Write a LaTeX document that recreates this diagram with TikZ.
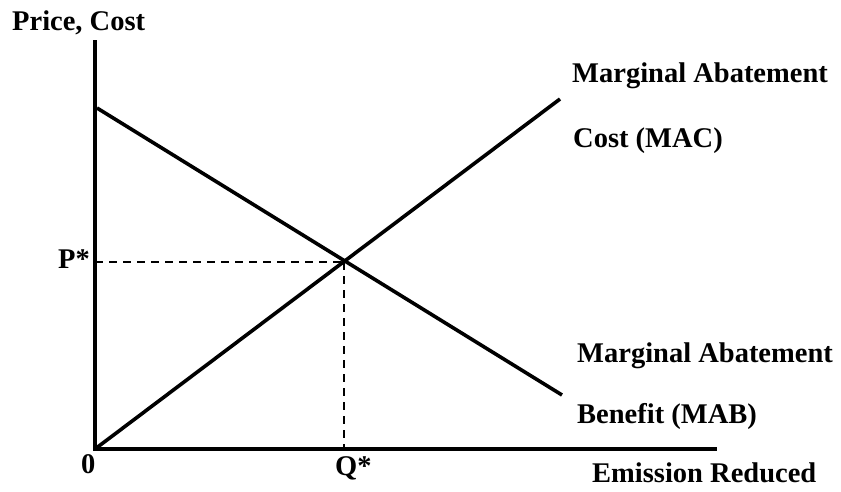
\documentclass[tikz,border=0pt]{standalone}
\usepackage{fontspec}
\setmainfont{Liberation Serif}
\begin{document}
\begin{tikzpicture}[x=1pt,y=-1pt,
  axis/.style={line width=4pt},
  curve/.style={line width=3.6pt},
  guide/.style={line width=1.5pt, dash pattern=on 8pt off 6pt},
  lbl/.style={font=\fontsize{28.5}{32}\selectfont\bfseries, inner sep=0pt, anchor=base west}]
\useasboundingbox (0,0) rectangle (841,491);
\coordinate (O) at (95,449);
\coordinate (Ytop) at (95,40);
\coordinate (Xend) at (717,449);
\coordinate (MACa) at (95,449);
\coordinate (MACb) at (560,99);
\coordinate (MABa) at (97,108);
\coordinate (MABb) at (562,395);
\coordinate (E) at (344,262);
\coordinate (Py) at (95,262);
\coordinate (Qx) at (344,449);
\draw[axis] (Ytop) -- (O) -- (Xend);
\draw[curve] (MACa) -- (MACb);
\draw[curve] (MABa) -- (MABb);
\draw[guide] (Py) -- (E);
\draw[guide] (E) -- (Qx);
\node[lbl] (tpc) at (12,30) {Price, Cost};
\node[lbl] (tmac1) at (572,82) {Marginal Abatement};
\node[lbl] (tmac2) at (573,147) {Cost (MAC)};
\node[lbl] (tmab1) at (577,362) {Marginal Abatement};
\node[lbl] (tmab2) at (577,423) {Benefit (MAB)};
\node[lbl] (temr) at (592,482) {Emission Reduced};
\node[lbl] (tzero) at (81,473) {0};
\node[lbl] (tp) at (58,268) {P*};
\node[lbl] (tq) at (335,475) {Q*};
\end{tikzpicture}
\end{document}
